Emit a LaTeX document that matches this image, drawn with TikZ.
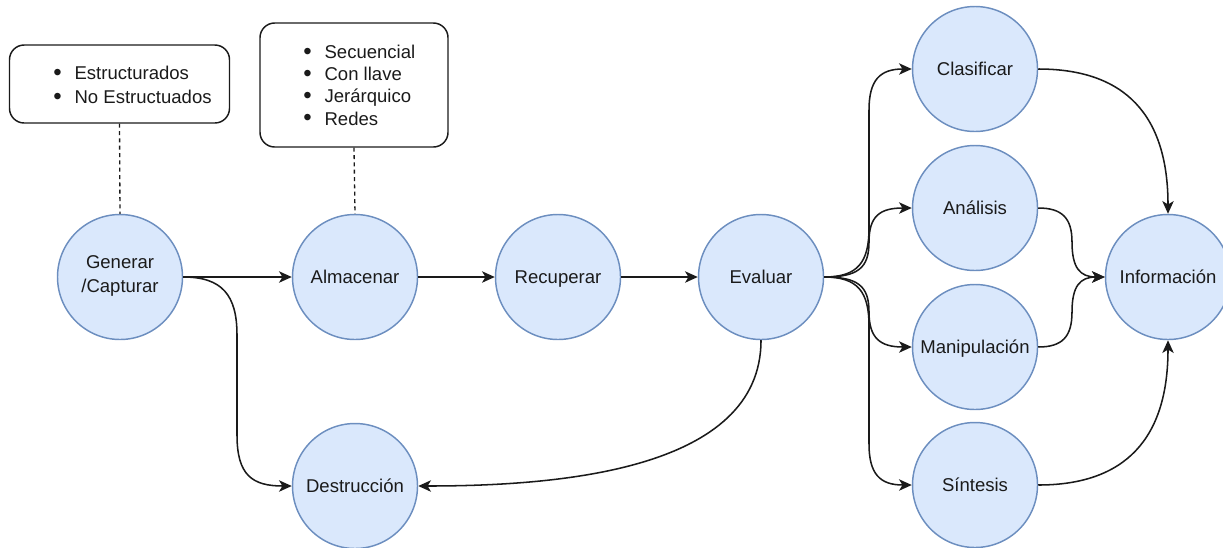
\documentclass[tikz,border=0pt]{standalone}
\usepackage{fontspec}
\setmainfont{Liberation Sans}
\usetikzlibrary{arrows.meta}
\definecolor{cfill}{HTML}{DAE8FC}
\definecolor{cdraw}{HTML}{6C8EBF}
\definecolor{ink}{HTML}{1A1A1A}
\newcommand\bul{\makebox[16pt][l]{\raisebox{-0.6pt}{\fontsize{18pt}{0pt}\selectfont\textbullet}}}
\newcommand\mystrut{\rule[-4.6pt]{0pt}{19.1pt}}
\begin{document}
\begin{tikzpicture}[x=0.75pt,y=-0.75pt,
  circ/.style={circle,draw=cdraw,fill=cfill,line width=1.1pt,minimum size=93.75pt,inner sep=0pt,align=center,text=ink,font=\fontsize{13.9pt}{17.6pt}\selectfont,execute at begin node=\mystrut,execute at end node=\mystrut},
  infobox/.style={draw=ink,line width=1.1pt,rounded corners=11pt,inner sep=0pt},
  items/.style={anchor=west,align=left,inner sep=0pt,text=ink},
  conn/.style={draw=ink,line width=1.15pt,-{Stealth[length=9.5pt,width=8.5pt,inset=2.5pt]}},
  dotline/.style={draw=ink,line width=1pt,dash pattern=on 3pt off 2.5pt}
]
\useasboundingbox (0,0) rectangle (1223,547);

% boxes
\node[infobox,minimum width=165pt,minimum height=58.5pt] (b1) at (119.5,84) {};
\node[items,font=\fontsize{13.9pt}{18pt}\selectfont] (t1) at (53,85) {\bul Estructurados\\\bul No Estructuados};
\node[infobox,minimum width=141pt,minimum height=93pt] (b2) at (354,85) {};
\node[items,font=\fontsize{13.9pt}{16.6pt}\selectfont] (t2) at (303,85.5) {\bul Secuencial\\\bul Con llave\\\bul Jerárquico\\\bul Redes};

% circles
\node[circ] (gen) at (120,277) {Generar\\/Capturar};
\node[circ] (alm) at (355,277) {Almacenar};
\node[circ] (rec) at (558,277) {Recuperar};
\node[circ] (eva) at (761,277) {Evaluar};
\node[circ] (des) at (355,486) {Destrucción};
\node[circ] (cla) at (975,69) {Clasificar};
\node[circ] (ana) at (975,208) {Análisis};
\node[circ] (man) at (975,347) {Manipulación};
\node[circ] (sin) at (975,485) {Síntesis};
\node[circ] (inf) at (1168,277) {Información};

% dashed links
\draw[dotline] (b1.south) -- (gen.north);
\draw[dotline] (b2.south) -- (alm.north);

% straight flow
\draw[conn] (gen.east) -- (alm.west);
\draw[conn] (alm.east) -- (rec.west);
\draw[conn] (rec.east) -- (eva.west);

% generar -> destruccion
\draw[conn] (gen.east) .. controls (222,277) and (237,295) .. (237,335) -- (237,435)
  .. controls (237,475) and (252,486) .. (des.west);

% evaluar -> destruccion
\draw[conn] (eva.south) .. controls (761,470) and (560,486) .. (des.east);

% evaluar fan
\draw[conn] (eva.east) .. controls (858,277) and (869,262) .. (869,228) -- (869,110)
  .. controls (869,80) and (880,69) .. (cla.west);
\draw[conn] (eva.east) .. controls (858,277) and (869,268) .. (869,242)
  .. controls (869,216) and (880,208) .. (ana.west);
\draw[conn] (eva.east) .. controls (858,277) and (869,286) .. (869,312)
  .. controls (869,338) and (880,347) .. (man.west);
\draw[conn] (eva.east) .. controls (858,277) and (869,292) .. (869,326) -- (869,444)
  .. controls (869,474) and (880,485) .. (sin.west);

% to informacion
\draw[conn] (cla.east) .. controls (1125,69) and (1168,115) .. (inf.north);
\draw[conn] (ana.east) .. controls (1062,208) and (1072,218) .. (1072,242)
  .. controls (1072,268) and (1080,277) .. (inf.west);
\draw[conn] (man.east) .. controls (1062,347) and (1072,337) .. (1072,312)
  .. controls (1072,286) and (1080,277) .. (inf.west);
\draw[conn] (sin.east) .. controls (1125,485) and (1168,439) .. (inf.south);
\end{tikzpicture}
\end{document}
